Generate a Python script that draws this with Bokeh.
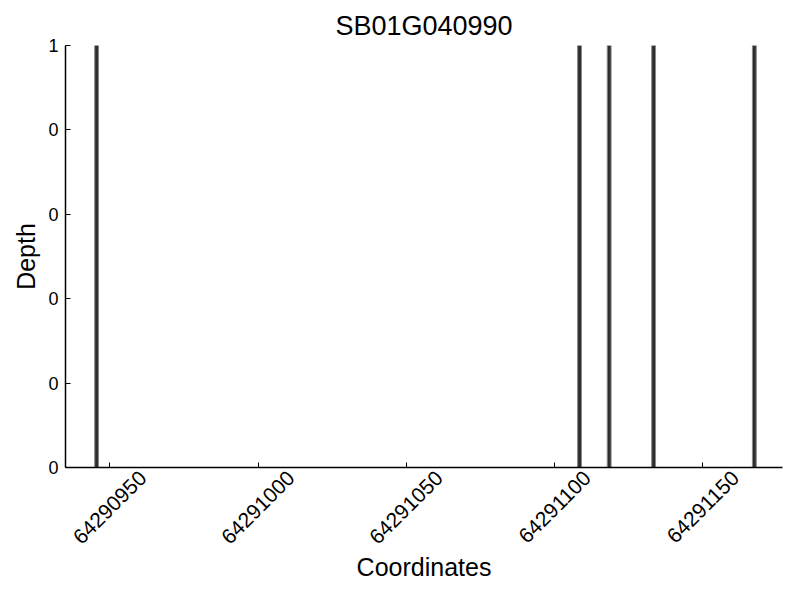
import math
from bokeh.plotting import figure
from bokeh.models import Range1d, FixedTicker, LinearAxis
from bokeh.embed import file_html
from bokeh.resources import INLINE

title_text = "SB01G040990"
positions = [64290945, 64291108, 64291118, 64291133, 64291167]
depths = [1, 1, 1, 1, 1]
x_ticks = [64290950, 64291000, 64291050, 64291100, 64291150]
x_tick_labels = ["64290950", "64291000", "64291050", "64291100", "64291150"]
y_ticks = [0, 0.2, 0.4, 0.6, 0.8, 1.0]
y_tick_labels = ["0", "0", "0", "0", "0", "1"]

FONT = "Liberation Sans"
X0, X1 = 64290935, 64291177
FRAME_W = 717

p = figure(width=784, height=584, output_backend="svg", toolbar_location=None,
           x_range=Range1d(X0, X1), y_range=Range1d(0, 1),
           min_border_left=65, min_border_right=2, min_border_top=45, min_border_bottom=116)
p.title.text = title_text
p.title.align = "center"
p.title.text_font = FONT
p.title.text_font_size = "27px"
p.title.text_font_style = "normal"
p.title.text_color = "black"

centers = [x + 0.5 for x in positions]
p.vbar(x=centers, top=depths, bottom=0, width=1.3,
       fill_color="#2e2e2e", line_color="#8a8a8a", line_width=1)

p.outline_line_color = None
p.xgrid.visible = False
p.ygrid.visible = False

# axis carrying the tick marks (no labels)
xa = p.xaxis[0]
xa.ticker = FixedTicker(ticks=x_ticks)
xa.major_label_text_color = None
xa.major_label_standoff = 0

# second axis below, carrying the rotated tick labels centred under ticks
shift_px = 33
shift = shift_px * (X1 - X0) / FRAME_W
shifted = [t + shift for t in x_ticks]
xb = LinearAxis(ticker=FixedTicker(ticks=shifted),
                major_label_overrides={s: l for s, l in zip(shifted, x_tick_labels)},
                major_label_orientation=math.pi / 4,
                axis_line_color=None, major_tick_line_color=None, minor_tick_line_color=None,
                axis_label="Coordinates")
p.add_layout(xb, "below")

ya = p.yaxis[0]
ya.ticker = FixedTicker(ticks=y_ticks)
ya.major_label_overrides = {t: l for t, l in zip(y_ticks, y_tick_labels)}
ya.axis_label = "Depth"

for ax in (xa, ya):
    ax.major_tick_in = 5
    ax.major_tick_out = 0
    ax.minor_tick_line_color = None
    ax.axis_line_color = "black"
    ax.axis_line_width = 1.5
    ax.major_tick_line_color = "black"
for ax in (xa, xb, ya):
    ax.major_label_text_font = FONT
    ax.major_label_text_font_size = "18px"
    ax.axis_label_text_font = FONT
    ax.axis_label_text_font_size = "25px"
    ax.axis_label_text_font_style = "normal"
    ax.axis_label_text_color = "black"
xb.major_label_text_font_size = "21px"
ya.major_label_text_color = "black"
xb.major_label_text_color = "black"
xb.major_tick_in = 0
xb.major_tick_out = 0
xb.major_label_standoff = 7
ya.major_label_standoff = 7
ya.axis_label_standoff = 5
xb.axis_label_standoff = 0

open("out.html", "w").write(file_html(p, INLINE))
